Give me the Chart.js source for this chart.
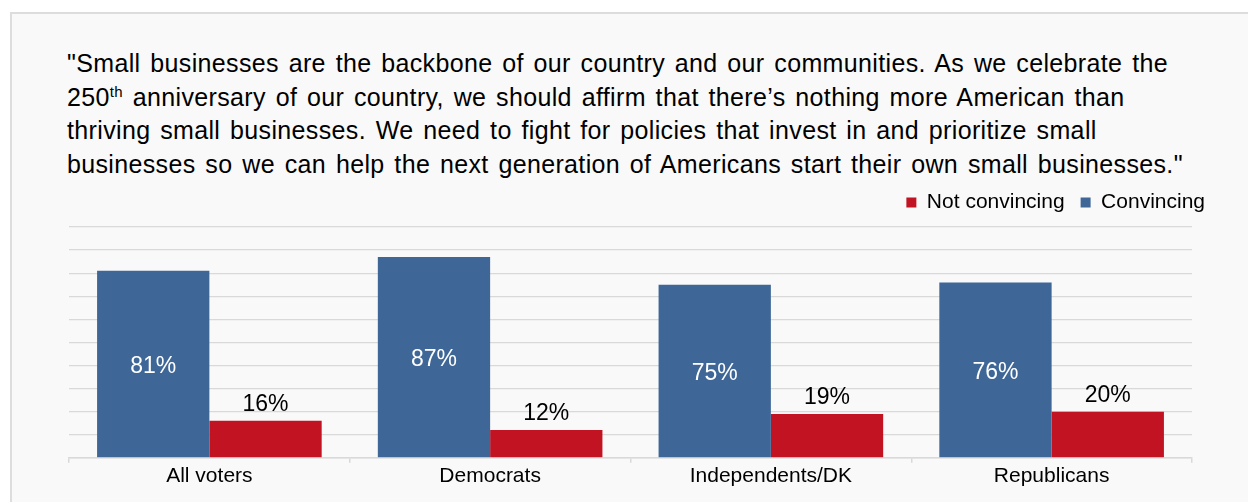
<!DOCTYPE html>
<html>
<head>
<meta charset="utf-8">
<script src="https://cdn.jsdelivr.net/npm/chart.js@4"></script>
<style>
    html, body { margin: 0; padding: 0; background: #ffffff; }
    body { width: 1248px; height: 502px; position: relative; overflow: hidden; font-family: "Liberation Sans", Arial, sans-serif; }
    .panel { position: absolute; left: 10px; top: 12px; width: 1260px; height: 520px; background: #f9f9f9; border: 2px solid #dddddd; }
    .quote { position: absolute; left: 67px; top: 47px; font-size: 25px; line-height: 33.5px; letter-spacing: 0.35px; word-spacing: 2.5px; color: #000; white-space: nowrap; }
    .quote sup { font-size: 0.6em; line-height: 0; vertical-align: 0.6em; }
    #chart { position: absolute; left: 0; top: 0; }
</style>
</head>
<body>
<div class="panel"></div>
<div class="quote">
    "Small businesses are the backbone of our country and our communities. As we celebrate the<br>
    250<sup>th</sup> anniversary of our country, we should affirm that there’s nothing more American than<br>
    thriving small businesses. We need to fight for policies that invest in and prioritize small<br>
    businesses so we can help the next generation of Americans start their own small businesses."
</div>
<canvas id="chart" width="1248" height="502"></canvas>
<script>
const groups = ['All voters', 'Democrats', 'Independents/DK', 'Republicans'];
const convincing = [81, 87, 75, 76];
const notConvincing = [16, 12, 19, 20];

const BLUE = '#3e6797';
const RED = '#c11322';
const GRID = '#d9d9d9';
const FONT = '"Liberation Sans", Arial, sans-serif';

// percent labels: white and centred inside the blue bars, black above the red ones
const barLabels = {
    id: 'barLabels',
    afterDatasetsDraw(chart) {
        const ctx = chart.ctx;
        ctx.save();
        ctx.font = '23px ' + FONT;
        ctx.textAlign = 'center';
        ctx.textBaseline = 'middle';
        chart.data.datasets.forEach((ds, i) => {
            chart.getDatasetMeta(i).data.forEach((bar, j) => {
                const text = ds.data[j] + '%';
                if (ds.inside) {
                    ctx.fillStyle = '#ffffff';
                    ctx.fillText(text, bar.x, (bar.y + bar.base) / 2 + 3);
                } else {
                    ctx.fillStyle = '#000000';
                    ctx.fillText(text, bar.x, bar.y - 16);
                }
            });
        });
        ctx.restore();
    }
};

Chart.defaults.font.family = FONT;
Chart.defaults.color = '#000000';

new Chart(document.getElementById('chart'), {
    type: 'bar',
    plugins: [barLabels],
    data: {
        labels: groups,
        datasets: [
            { label: 'Convincing', data: convincing, backgroundColor: BLUE, inside: true },
            { label: 'Not convincing', data: notConvincing, backgroundColor: RED, inside: false }
        ]
    },
    options: {
        responsive: false,
        animation: false,
        devicePixelRatio: 1,
        layout: { padding: { left: 69, right: 27, top: 176, bottom: 12 } },
        datasets: { bar: { barPercentage: 1, categoryPercentage: 0.8, borderWidth: 0 } },
        plugins: {
            legend: {
                position: 'top',
                align: 'end',
                reverse: true,
                labels: {
                    boxWidth: 10,
                    boxHeight: 10,
                    padding: 16,
                    font: { size: 21 },
                    color: '#000000'
                }
            },
            tooltip: { enabled: false }
        },
        scales: {
            x: {
                grid: { offset: true, drawOnChartArea: false, drawTicks: true, tickLength: 5, color: GRID, lineWidth: 1.5 },
                border: { color: GRID, width: 1.5 },
                ticks: { font: { size: 21 }, color: '#000000', padding: 1 }
            },
            gap: {
                type: 'linear',
                axis: 'x',
                position: 'top',
                display: true,
                grid: { display: false },
                border: { display: false },
                ticks: { display: false },
                afterFit: s => { s.height = 4; }
            },
            y: {
                position: 'right',
                min: 0,
                max: 100,
                ticks: { display: false, stepSize: 10 },
                grid: { color: GRID, lineWidth: 1.2, drawTicks: false },
                border: { display: false },
                afterFit: s => { s.width = 29; }
            }
        }
    }
});
</script>
</body>
</html>
